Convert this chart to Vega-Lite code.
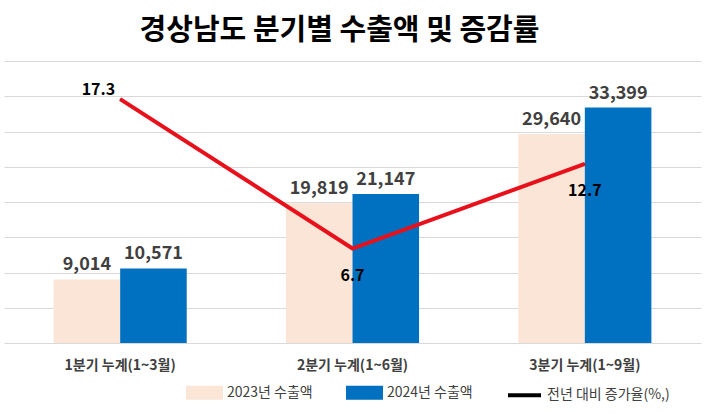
{
  "$schema": "https://vega.github.io/schema/vega-lite/v6.json",
  "width": 697,
  "height": 282,
  "autosize": {"type": "none"},
  "padding": {"left": 4, "top": 61, "right": 10, "bottom": 70},
  "background": "white",
  "title": {
    "text": "경상남도 분기별 수출액 및 증감률",
    "font": "Noto Sans CJK KR",
    "fontSize": 29,
    "fontWeight": "bold",
    "color": "#000000",
    "anchor": "middle",
    "dx": -13,
    "offset": 15
  },
  "config": {
    "view": {"stroke": null},
    "font": "Noto Sans CJK KR"
  },
  "datasets": {
    "bars": [
      {"q": "1분기 누계(1~3월)", "series": "2023년 수출액", "value": 9014},
      {"q": "1분기 누계(1~3월)", "series": "2024년 수출액", "value": 10571},
      {"q": "2분기 누계(1~6월)", "series": "2023년 수출액", "value": 19819},
      {"q": "2분기 누계(1~6월)", "series": "2024년 수출액", "value": 21147},
      {"q": "3분기 누계(1~9월)", "series": "2023년 수출액", "value": 29640},
      {"q": "3분기 누계(1~9월)", "series": "2024년 수출액", "value": 33399}
    ],
    "rate": [
      {"q": "1분기 누계(1~3월)", "series": "전년 대비 증가율(%,)", "rate": 17.3},
      {"q": "2분기 누계(1~6월)", "series": "전년 대비 증가율(%,)", "rate": 6.7},
      {"q": "3분기 누계(1~9월)", "series": "전년 대비 증가율(%,)", "rate": 12.7}
    ]
  },
  "encoding": {
    "x": {
      "field": "q",
      "type": "nominal",
      "sort": null,
      "scale": {"paddingInner": 0.427, "paddingOuter": 0.2135},
      "axis": {
        "title": null,
        "labelAngle": 0,
        "labelFont": "Noto Sans CJK KR",
        "labelFontSize": 14,
        "labelFontWeight": "bold",
        "labelColor": "#404040",
        "labelPadding": 15,
        "ticks": false,
        "domain": false
      }
    }
  },
  "layer": [
    {
      "data": {"name": "bars"},
      "mark": {"type": "bar"},
      "encoding": {
        "xOffset": {"field": "series", "type": "nominal", "sort": null, "scale": {"paddingInner": 0, "paddingOuter": 0}},
        "y": {
          "field": "value",
          "type": "quantitative",
          "scale": {"domain": [0, 40000], "nice": false},
          "axis": {
            "title": null,
            "labels": false,
            "ticks": false,
            "domain": false,
            "grid": true,
            "gridColor": "#D9D9D9",
            "gridWidth": 1,
            "values": [0, 5000, 10000, 15000, 20000, 25000, 30000, 35000, 40000]
          }
        },
        "color": {
          "field": "series",
          "type": "nominal",
          "scale": {
            "domain": ["2023년 수출액", "2024년 수출액", "전년 대비 증가율(%,)"],
            "range": ["#FBE5D6", "#0070C0", "#000000"]
          },
          "legend": {
            "title": null,
            "orient": "none",
            "direction": "horizontal",
            "legendX": 182,
            "legendY": 313,
            "symbolSize": 1089,
            "labelFont": "Noto Sans CJK KR",
            "labelFontSize": 14,
            "labelColor": "#404040",
            "labelOffset": 4,
            "columnPadding": 27,
            "encode": {
              "symbols": {
                "update": {
                  "shape": {"signal": "datum.value === '전년 대비 증가율(%,)' ? 'stroke' : 'M-1,-0.3H1V0.3H-1Z'"},
                  "stroke": {"signal": "datum.value === '전년 대비 증가율(%,)' ? '#000000' : 'transparent'"},
                  "strokeWidth": {"value": 4},
                  "fill": {"signal": "datum.value === '전년 대비 증가율(%,)' ? 'transparent' : scale('color', datum.value)"},
                  "opacity": {"value": 1}
                }
              }
            }
          }
        }
      }
    },
    {
      "data": {"name": "bars"},
      "mark": {"type": "text", "baseline": "bottom", "dy": -5, "fontSize": 18, "fontWeight": "bold", "color": "#404040", "font": "Noto Sans CJK KR"},
      "encoding": {
        "xOffset": {"field": "series", "type": "nominal", "sort": null},
        "y": {"field": "value", "type": "quantitative", "scale": {"domain": [0, 40000], "nice": false}, "axis": null},
        "text": {"field": "value", "type": "quantitative", "format": ","}
      }
    },
    {
      "data": {"name": "rate"},
      "mark": {"type": "line", "strokeWidth": 2},
      "encoding": {
        "y": {"field": "rate", "type": "quantitative", "scale": {"domain": [0, 20], "nice": false}, "axis": null},
        "color": {"field": "series", "type": "nominal"}
      }
    },
    {
      "data": {"name": "rate"},
      "mark": {"type": "line", "strokeWidth": 4, "color": "#E8101A"},
      "encoding": {
        "y": {"field": "rate", "type": "quantitative", "scale": {"domain": [0, 20], "nice": false}, "axis": null}
      }
    },
    {
      "data": {"name": "rate"},
      "transform": [{"filter": "datum.rate > 15"}],
      "mark": {"type": "text", "align": "right", "baseline": "middle", "dx": -5, "dy": -9, "fontSize": 16, "fontWeight": "bold", "color": "#000000", "font": "Noto Sans CJK KR"},
      "encoding": {
        "y": {"field": "rate", "type": "quantitative", "scale": {"domain": [0, 20], "nice": false}, "axis": null},
        "text": {"field": "rate", "type": "quantitative", "format": ".1f"}
      }
    },
    {
      "data": {"name": "rate"},
      "transform": [{"filter": "datum.rate < 15"}],
      "mark": {"type": "text", "align": "center", "baseline": "middle", "dy": 27, "fontSize": 16, "fontWeight": "bold", "color": "#000000", "font": "Noto Sans CJK KR"},
      "encoding": {
        "y": {"field": "rate", "type": "quantitative", "scale": {"domain": [0, 20], "nice": false}, "axis": null},
        "text": {"field": "rate", "type": "quantitative", "format": ".1f"}
      }
    }
  ],
  "resolve": {"scale": {"y": "independent"}}
}
